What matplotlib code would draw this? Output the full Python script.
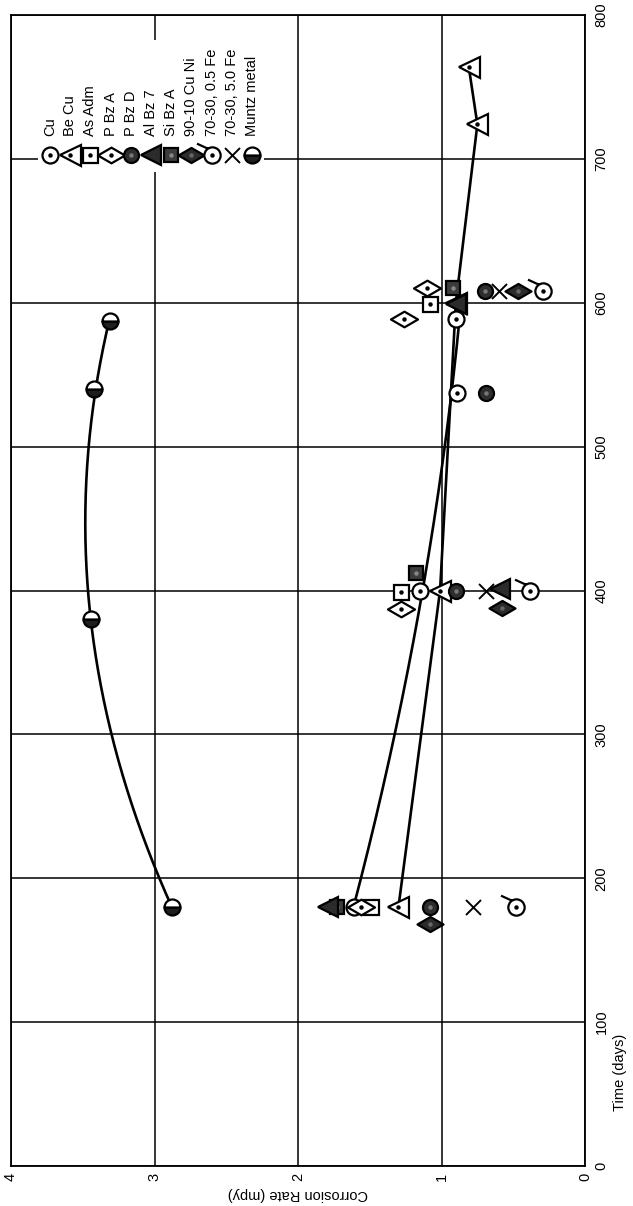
import numpy as np
import matplotlib
matplotlib.use('Agg')
import matplotlib.pyplot as plt
from matplotlib.path import Path
from matplotlib.patches import Rectangle

plt.rcParams['font.family'] = ['Liberation Sans', 'DejaVu Sans']

# ---------------- data (time in days, corrosion rate in mpy) ----------------
series_names = ['Cu', 'Be Cu', 'As Adm', 'P Bz A', 'P Bz D', 'Al Bz 7', 'Si Bz A',
                '90-10 Cu Ni', '70-30, 0.5 Fe', '70-30, 5.0 Fe', 'Muntz metal']

cu_days = [180, 400, 537, 589]
cu_rate = [1.61, 1.15, 0.89, 0.90]
becu_days = [180, 400, 600, 724, 764]
becu_rate = [1.30, 1.01, 0.90, 0.75, 0.81]
asadm_days = [180, 399, 599]
asadm_rate = [1.49, 1.28, 1.08]
pbza_days = [180, 387, 589, 610]
pbza_rate = [1.56, 1.28, 1.26, 1.10]
pbzd_days = [180, 400, 537, 608]
pbzd_rate = [1.08, 0.90, 0.69, 0.70]
albz_days = [180, 401, 599]
albz_rate = [1.79, 0.59, 0.90]
sibz_days = [180, 412, 610]
sibz_rate = [1.73, 1.18, 0.92]
cuni_days = [168, 388, 608]
cuni_rate = [1.08, 0.58, 0.47]
fe05_days = [180, 400, 608]
fe05_rate = [0.48, 0.38, 0.29]
fe50_days = [180, 400, 608]
fe50_rate = [0.78, 0.69, 0.60]
muntz_days = [180, 380, 540, 587]
muntz_rate = [2.88, 3.44, 3.42, 3.31]

rate_ticks = [4, 3, 2, 1, 0]
day_ticks = [0, 100, 200, 300, 400, 500, 600, 700, 800]

# ---------------- figure layout (chart drawn rotated 90 deg CCW) ----------------
W, H, DPI = 633, 1206, 100
fig = plt.figure(figsize=(W / DPI, H / DPI), dpi=DPI)
L, R, T, B = 11, 585, 15, 1166
ax = fig.add_axes([L / W, 1 - B / H, (R - L) / W, (B - T) / H])
ax.set_xlim(4, 0)
ax.set_ylim(0, 800)
ax.set_xticks(rate_ticks)
ax.set_yticks(day_ticks)
ax.yaxis.tick_right()
ax.grid(True, color='black', lw=1.1)
for s in ax.spines.values():
    s.set_linewidth(1.3)
ax.tick_params(axis='x', length=0, pad=5, labelrotation=90, labelsize=10.5)
ax.tick_params(axis='y', length=0, pad=7, labelrotation=90, labelsize=10.5)
for t in ax.get_yticklabels():
    t.set_va('center')

fig.text(298 / W, 1 - 1194 / H, 'Corrosion Rate (mpy)', rotation=180,
         ha='center', va='center', fontsize=10.5)
fig.text(620 / W, 1 - 1072 / H, 'Time (days)', rotation=90,
         ha='center', va='center', fontsize=10.5)

# ---------------- marker shapes ----------------
wide_diamond = Path([(-1, 0), (0, 0.58), (1, 0), (0, -0.58), (-1, 0)],
                    [Path.MOVETO, Path.LINETO, Path.LINETO, Path.LINETO, Path.CLOSEPOLY])
circ = Path.circle((0, 0), 1.0)
tick = Path([(-0.55, 0.83), (-1.9, 1.45)], [Path.MOVETO, Path.LINETO])
tick_circle = Path.make_compound_path(circ, tick)

PT = 72 / DPI  # px -> pt
styles = {
    'Cu': dict(marker='o', ms=16 * PT, mfc='white', mec='black', mew=1.6, dot='black'),
    'Be Cu': dict(marker='<', ms=21 * PT, mfc='white', mec='black', mew=1.6, dot='black'),
    'As Adm': dict(marker='s', ms=15 * PT, mfc='white', mec='black', mew=1.6, dot='black'),
    'P Bz A': dict(marker=wide_diamond, ms=27 * PT, mfc='white', mec='black', mew=1.6, dot='black'),
    'P Bz D': dict(marker='o', ms=15 * PT, mfc='#2e2e2e', mec='black', mew=1.6, dot='#777777'),
    'Al Bz 7': dict(marker='<', ms=20 * PT, mfc='#2b2b2b', mec='black', mew=1.6, dot=None),
    'Si Bz A': dict(marker='s', ms=14 * PT, mfc='#3c3c3c', mec='black', mew=1.6, dot='#888888'),
    '90-10 Cu Ni': dict(marker=wide_diamond, ms=26 * PT, mfc='#2b2b2b', mec='black', mew=1.6, dot='#666666'),
    '70-30, 0.5 Fe': dict(marker=tick_circle, ms=31 * PT, mfc='white', mec='black', mew=1.6, dot='black'),
    '70-30, 5.0 Fe': dict(marker='x', ms=15 * PT, mfc='black', mec='black', mew=1.4, dot=None),
    'Muntz metal': dict(marker='o', ms=16 * PT, mfc='#1e1e1e', mec='black', mew=1.6, dot=None,
                        fillstyle='bottom', mfcalt='white'),
}

data = {
    'Cu': (cu_days, cu_rate), 'Be Cu': (becu_days, becu_rate),
    'As Adm': (asadm_days, asadm_rate), 'P Bz A': (pbza_days, pbza_rate),
    'P Bz D': (pbzd_days, pbzd_rate), 'Al Bz 7': (albz_days, albz_rate),
    'Si Bz A': (sibz_days, sibz_rate), '90-10 Cu Ni': (cuni_days, cuni_rate),
    '70-30, 0.5 Fe': (fe05_days, fe05_rate), '70-30, 5.0 Fe': (fe50_days, fe50_rate),
    'Muntz metal': (muntz_days, muntz_rate),
}

# ---------------- connecting curves ----------------
LW = 1.9
md = np.array(muntz_days, float); mr = np.array(muntz_rate, float)
pm = np.polyfit(md, mr, 2)
tt = np.linspace(md.min(), md.max(), 200)
ax.plot(np.polyval(pm, tt), tt, color='black', lw=LW, zorder=2)

cd = np.array(cu_days, float); cr = np.array(cu_rate, float)
pc = np.polyfit(cd, cr, 2)
tt = np.linspace(cd.min(), cd.max(), 200)
ax.plot(np.polyval(pc, tt), tt, color='black', lw=LW, zorder=2)

ax.plot(becu_rate, becu_days, color='black', lw=LW, zorder=2)


def draw(axis, xs, ys, st, z, **kw):
    extra = {}
    if 'fillstyle' in st:
        extra = dict(fillstyle=st['fillstyle'], markerfacecoloralt=st['mfcalt'])
    axis.plot(xs, ys, ls='none', marker=st['marker'], ms=st['ms'], mfc=st['mfc'],
              mec=st['mec'], mew=st['mew'], zorder=z, **extra, **kw)
    if st['dot']:
        axis.plot(xs, ys, ls='none', marker='o', ms=2.2, mfc=st['dot'], mec=st['dot'],
                  zorder=z + 0.01, **kw)


order = ['Muntz metal', 'Cu', 'Be Cu', 'As Adm', 'P Bz A', 'P Bz D', '70-30, 0.5 Fe',
         '70-30, 5.0 Fe', '90-10 Cu Ni', 'Si Bz A', 'Al Bz 7']
for i, name in enumerate(order):
    d, r = data[name]
    draw(ax, r, d, styles[name], 3 + i * 0.1)

# ---------------- legend (rotated) ----------------
ax.add_patch(Rectangle((38 / W, 1 - 172 / H), (264 - 38) / W, (172 - 40) / H,
                       transform=fig.transFigure, facecolor='white', edgecolor='none',
                       zorder=5, clip_on=False))
for i, name in enumerate(series_names):
    xp = 50 + 20.2 * i
    draw(ax, [xp / W], [1 - 155 / H], styles[name], 6, transform=fig.transFigure, clip_on=False)
    fig.text(xp / W, 1 - 136 / H, name, rotation=90, ha='center', va='bottom',
             fontsize=10.5, zorder=7)

fig.savefig('out.png', dpi=DPI)
